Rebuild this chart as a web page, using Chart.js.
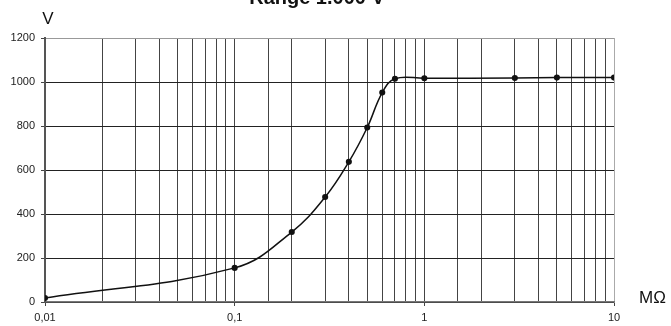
<!DOCTYPE html>
<html>
<head>
<meta charset="utf-8">
<script src="https://cdn.jsdelivr.net/npm/chart.js@4/dist/chart.umd.min.js"></script>
<style>
  html, body { margin: 0; padding: 0; background: #fff; }
  #wrap { width: 671px; height: 326px; position: relative; }
</style>
</head>
<body>
<div id="wrap"><canvas id="c" width="671" height="326"></canvas></div>
<script>
const resistanceMOhm = [0.01, 0.1, 0.2, 0.3, 0.4, 0.5, 0.6, 0.7, 1, 3, 5, 10];
const voltageV = [18, 155, 318, 477, 637, 793, 952, 1015, 1017, 1018, 1020, 1020];
const xTickLabels = { 0.01: '0,01', 0.1: '0,1', 1: '1', 10: '10' };
const titleText = 'Range 1.000 V';
const yAxisTitle = 'V';
const xAxisTitle = 'MΩ';

const FONT = 'Liberation Sans, Arial, sans-serif';

function isDecade(v) {
  const l = Math.log10(v);
  return Math.abs(l - Math.round(l)) < 1e-9;
}

const textPlugin = {
  id: 'texts',
  afterDraw(chart) {
    const ctx = chart.ctx;
    ctx.save();
    ctx.fillStyle = '#111';
    ctx.font = 'bold 20px ' + FONT;
    ctx.textAlign = 'center';
    ctx.textBaseline = 'alphabetic';
    ctx.fillText(titleText, 317, 4);
    ctx.font = '17px ' + FONT;
    ctx.textBaseline = 'middle';
    ctx.fillText(yAxisTitle, 48, 19);
    ctx.textAlign = 'left';
    ctx.fillText(xAxisTitle, 639, 298);
    ctx.restore();
  }
};

new Chart(document.getElementById('c'), {
  type: 'line',
  data: {
    datasets: [{
      data: resistanceMOhm.map((x, i) => ({ x: x, y: voltageV[i] })),
      borderColor: '#111',
      borderWidth: 1.5,
      backgroundColor: '#111',
      pointRadius: 2.3,
      pointStyle: 'circle',
      tension: 0.4,
      fill: false
    }]
  },
  options: {
    responsive: false,
    animation: false,
    devicePixelRatio: 1,
    layout: { padding: { left: 0, right: 57, top: 38, bottom: 0 } },
    plugins: { legend: { display: false }, tooltip: { enabled: false }, title: { display: false } },
    scales: {
      x: {
        type: 'logarithmic',
        min: 0.01,
        max: 10,
        afterFit(s) { s.height = 24; },
        border: { display: true, color: '#777', width: 1.5 },
        grid: {
          drawOnChartArea: true,
          color: ctx => (ctx.tick && ctx.tick.value === 10) ? '#aaa' : '#444',
          lineWidth: 1,
          tickLength: 4,
          tickColor: ctx => (ctx.tick && isDecade(ctx.tick.value)) ? '#444' : 'rgba(0,0,0,0)'
        },
        ticks: {
          autoSkip: false,
          maxRotation: 0,
          padding: 5,
          color: '#222',
          font: { family: FONT, size: 11 },
          callback: function (v) {
            for (const k in xTickLabels) {
              if (Math.abs(Number(k) - v) < 1e-9) return xTickLabels[k];
            }
            return '';
          }
        }
      },
      y: {
        min: 0,
        max: 1200,
        afterFit(s) { s.width = 45; },
        border: { display: true, color: '#555', width: 2 },
        grid: {
          color: ctx => (ctx.tick && ctx.tick.value === 1200) ? '#999' : '#222',
          lineWidth: 1,
          tickLength: 4,
          tickColor: '#444'
        },
        ticks: {
          stepSize: 200,
          padding: 6,
          color: '#222',
          font: { family: FONT, size: 11 },
          callback: v => String(v)
        }
      }
    }
  },
  plugins: [textPlugin]
});
</script>
</body>
</html>
